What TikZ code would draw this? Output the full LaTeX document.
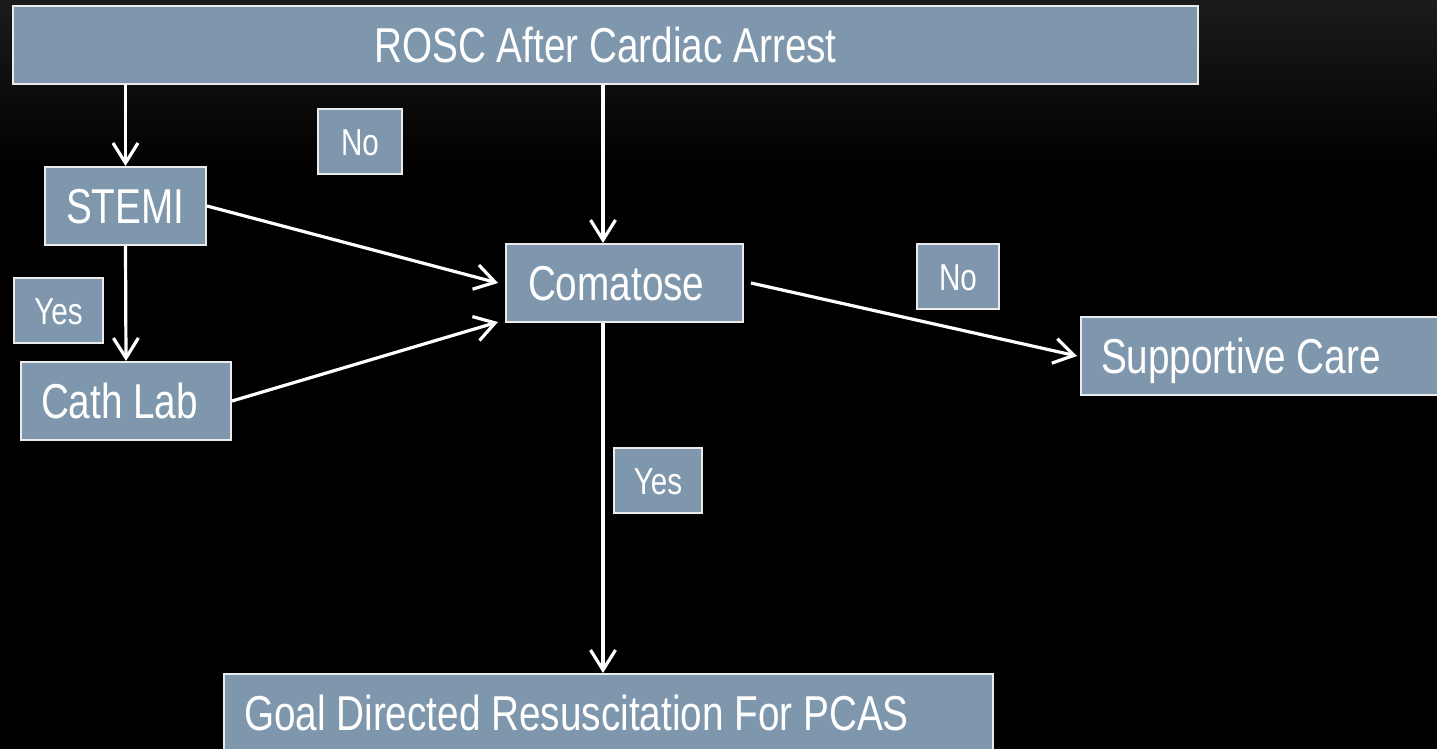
\documentclass[tikz,border=0pt]{standalone}
\usepackage{fontspec}
\setmainfont{Liberation Sans}[FakeStretch=0.79]
\usetikzlibrary{arrows.meta,calc}
\definecolor{boxfill}{RGB}{127,151,172}
\definecolor{boxline}{RGB}{235,235,235}
\definecolor{bgtop}{RGB}{27,27,27}
% text set flush left in a line of the given width (pt)
\newcommand{\flushtext}[2]{\makebox[#1pt][l]{#2}}
\begin{document}
\begin{tikzpicture}[x=1pt,y=-1pt,
  flow/.style={draw=boxline, line width=2pt, fill=boxfill, text=white,
    inner sep=0pt, anchor=north west},
  big/.style={flow, font=\fontsize{49}{55}\selectfont, text height=35pt,
    text depth=0pt, minimum height=78pt},
  tag/.style={flow, font=\fontsize{37.5}{42}\selectfont, text height=27pt,
    text depth=0pt, minimum height=65pt},
  link/.style={draw=white, line width=3.2pt,
    -{Straight Barb[length=20pt,width=25pt]}}
]
% dark backdrop, slightly lighter along the top edge
\fill[black] (0,0) rectangle (1437,749);
\shade[top color=bgtop, bottom color=black] (0,0) rectangle (1437,170);
\useasboundingbox (0,0) rectangle (1437,749);

% boxes
\node[big, minimum width=1185pt] (rosc) at (12,5) {ROSC After Cardiac Arrest};
\node[big, inner xsep=21pt] (stemi) at (44,166) {\flushtext{119}{STEMI}};
\node[big, inner xsep=20pt] (cath) at (20,361) {\flushtext{170}{Cath Lab}};
\node[big, inner xsep=22pt] (coma) at (505,243) {\flushtext{193}{Comatose}};
\node[big, inner xsep=20pt] (supp) at (1080,316) {\flushtext{332}{Supportive Care}};
\node[big, inner xsep=20pt] (goal) at (223,673) {\flushtext{729}{Goal Directed Resuscitation For PCAS}};

% answer labels
\node[tag, minimum width=84pt] (no1) at (317,108) {No};
\node[tag, minimum width=89pt] (yes1) at (13,277) {Yes};
\node[tag, minimum width=82pt] (no2) at (916,243) {No};
\node[tag, minimum width=88pt] (yes2) at (613,447) {Yes};

% vertical line through the comatose decision
\coordinate (cin) at ($(coma.north west)+(98,0)$);
\coordinate (cout) at ($(coma.south west)+(98,0)$);

% connectors
\draw[link] (rosc.south -| stemi.north) -- (stemi.north);
\draw[link] (stemi.south) -- (cath.north);
\draw[link] (stemi.east) -- ([xshift=-7pt]coma.west);
\draw[link] (cath.east) -- ([xshift=-7pt,yshift=1pt]coma.south west);
\draw[link] ([xshift=7pt]coma.east) -- ([xshift=-3pt]supp.west);
\draw[link] (cin |- rosc.south) -- (cin);
\draw[link] (cout) -- (cout |- goal.north);
\end{tikzpicture}
\end{document}
